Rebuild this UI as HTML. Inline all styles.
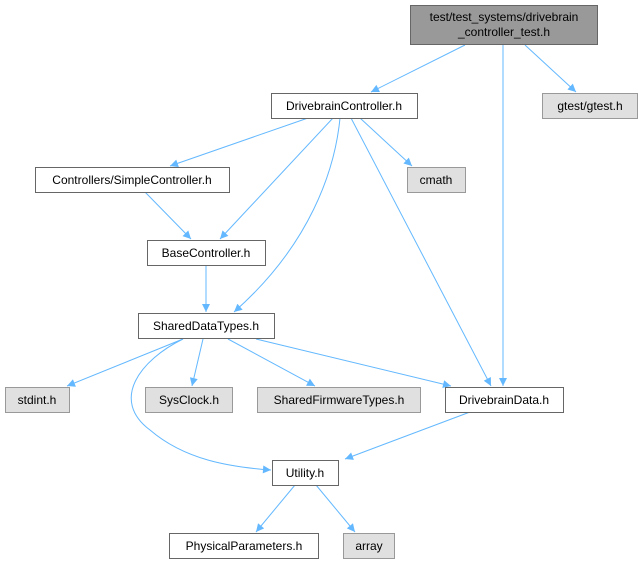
<!DOCTYPE html>
<html><head><meta charset="utf-8"><style>
html,body{margin:0;padding:0;background:#fff}
svg text{font-family:"Liberation Sans",sans-serif;font-size:12px;fill:#000}
</style></head><body>
<svg width="639" height="564" viewBox="0 0 639 564" xmlns="http://www.w3.org/2000/svg">
<defs><marker id="a" viewBox="0 0 10 10" refX="10" refY="5" markerWidth="10" markerHeight="8" orient="auto" markerUnits="userSpaceOnUse"><path d="M0,0 L10,5 L0,10 z" fill="#63b8ff"/></marker></defs>
<g fill="none" stroke="#63b8ff" stroke-width="1" marker-end="url(#a)">
<path d="M465,45 L371,92" />
<path d="M503,45 L503,386"/>
<path d="M525,45 L576,92"/>
<path d="M308,118 L170,166"/>
<path d="M333,118 L220,239"/>
<path d="M340,118 C335,170 310,245 234,312"/>
<path d="M351,118 L491,386"/>
<path d="M360,118 L412,166"/>
<path d="M145,192 L191,239"/>
<path d="M206,265 L206,312"/>
<path d="M183,339 L67,386"/>
<path d="M203,339 L192,386"/>
<path d="M228,339 L315,386"/>
<path d="M256,339 L451,386"/>
<path d="M183,339 C140,360 110,400 150,430 C185,460 230,467 271,470"/>
<path d="M470,412 L345,459"/>
<path d="M295,485 L256,532"/>
<path d="M316,485 L355,532"/>
</g>
<g stroke-width="1">
<rect x="410.5" y="5.5" width="187" height="39" fill="#999" stroke="#666"/>
<text x="504" y="21" text-anchor="middle">test/test_systems/drivebrain</text>
<text x="504" y="36" text-anchor="middle">_controller_test.h</text>
<rect x="271.5" y="93.5" width="146" height="25" fill="#fff" stroke="#666"/>
<text x="344" y="110" text-anchor="middle">DrivebrainController.h</text>
<rect x="542.5" y="93.5" width="95" height="25" fill="#e0e0e0" stroke="#999"/>
<text x="590" y="110" text-anchor="middle">gtest/gtest.h</text>
<rect x="35.5" y="167.5" width="194" height="25" fill="#fff" stroke="#666"/>
<text x="132" y="184" text-anchor="middle">Controllers/SimpleController.h</text>
<rect x="407.5" y="167.5" width="58" height="25" fill="#e0e0e0" stroke="#999"/>
<text x="436" y="184" text-anchor="middle">cmath</text>
<rect x="147.5" y="240.5" width="118" height="25" fill="#fff" stroke="#666"/>
<text x="206" y="257" text-anchor="middle">BaseController.h</text>
<rect x="138.5" y="313.5" width="136" height="25" fill="#fff" stroke="#666"/>
<text x="206" y="330" text-anchor="middle">SharedDataTypes.h</text>
<rect x="5.5" y="387.5" width="64" height="25" fill="#e0e0e0" stroke="#999"/>
<text x="37" y="404" text-anchor="middle">stdint.h</text>
<rect x="145.5" y="387.5" width="87" height="25" fill="#e0e0e0" stroke="#999"/>
<text x="189" y="404" text-anchor="middle">SysClock.h</text>
<rect x="257.5" y="387.5" width="163" height="25" fill="#e0e0e0" stroke="#999"/>
<text x="339" y="404" text-anchor="middle">SharedFirmwareTypes.h</text>
<rect x="445.5" y="387.5" width="118" height="25" fill="#fff" stroke="#666"/>
<text x="504" y="404" text-anchor="middle">DrivebrainData.h</text>
<rect x="272.5" y="460.5" width="66" height="25" fill="#fff" stroke="#666"/>
<text x="305" y="477" text-anchor="middle">Utility.h</text>
<rect x="169.5" y="533.5" width="149" height="25" fill="#fff" stroke="#666"/>
<text x="244" y="550" text-anchor="middle">PhysicalParameters.h</text>
<rect x="343.5" y="533.5" width="51" height="25" fill="#e0e0e0" stroke="#999"/>
<text x="369" y="550" text-anchor="middle">array</text>
</g>
</svg>
</body></html>
